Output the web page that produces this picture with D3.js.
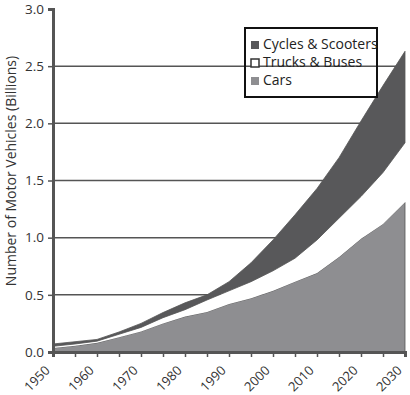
<!DOCTYPE html>
<html>
<head>
<meta charset="utf-8">
<script src="https://cdn.jsdelivr.net/npm/d3@7"></script>
<style>
  body { margin: 0; background: #fff; }
  .chart text { font-family: "Open Sans", sans-serif; }
</style>
</head>
<body>
<div class="chart"></div>
<script>
const years = [1950, 1955, 1960, 1965, 1970, 1975, 1980, 1985, 1990, 1995, 2000, 2005, 2010, 2015, 2020, 2025, 2030];
const cars = [0.035, 0.055, 0.08, 0.13, 0.18, 0.25, 0.31, 0.35, 0.42, 0.47, 0.535, 0.615, 0.69, 0.83, 0.99, 1.12, 1.31];
const trucks = [0.015, 0.015, 0.015, 0.025, 0.035, 0.05, 0.06, 0.105, 0.115, 0.145, 0.175, 0.205, 0.29, 0.34, 0.37, 0.45, 0.52];
const cycles = [0.02, 0.02, 0.015, 0.02, 0.035, 0.045, 0.06, 0.045, 0.08, 0.165, 0.27, 0.38, 0.45, 0.53, 0.66, 0.76, 0.80];
const seriesNames = ["Cars", "Trucks & Buses", "Cycles & Scooters"];
const legendNames = ["Cycles & Scooters", "Trucks & Buses", "Cars"];
const yTicks = [0, 0.5, 1.0, 1.5, 2.0, 2.5, 3.0];
const xLabelYears = [1950, 1960, 1970, 1980, 1990, 2000, 2010, 2020, 2030];

const margin = ({top: 9, right: 5, bottom: 43, left: 53});
const width = 410 - margin.left - margin.right,
      height = 395 - margin.top - margin.bottom;

const svg = d3.select(".chart").append("svg")
    .attr("width", 410)
    .attr("height", 395)
  .append("g")
    .attr("transform", "translate(" + margin.left + "," + margin.top + ")");

const data = years.map((y, i) => ({year: y, "Cars": cars[i], "Trucks & Buses": trucks[i], "Cycles & Scooters": cycles[i]}));
const stacked = d3.stack().keys(seriesNames)(data);

const xScale = d3.scaleLinear().domain([1950, 2030]).range([0, width]);
const yScale = d3.scaleLinear().domain([0, 3]).range([height, 0]);

const colors = {"Cars": "#8e8e91", "Trucks & Buses": "#ffffff", "Cycles & Scooters": "#58585a"};

// gridlines
svg.selectAll(".grid")
    .data(yTicks.filter(d => d > 0 && d < 3))
    .enter()
    .append("line")
    .attr("x1", 0)
    .attr("x2", width)
    .attr("y1", d => yScale(d))
    .attr("y2", d => yScale(d))
    .style("stroke", "#555")
    .style("stroke-width", 1.5);

const area = d3.area()
    .x(d => xScale(d.data.year))
    .y0(d => yScale(d[0]))
    .y1(d => yScale(d[1]));

svg.selectAll(".layer")
    .data(stacked)
    .enter()
    .append("path")
    .attr("d", area)
    .style("fill", d => colors[d.key])
    .style("stroke", d => d.key == "Trucks & Buses" ? "none" : "#555")
    .style("stroke-width", 0.8);

// Axis
const xAxis = d3.axisBottom(xScale)
    .tickValues(d3.range(1950, 2031, 5))
    .tickSize(5)
    .tickFormat(d => xLabelYears.includes(d) ? d : "");
const yAxis = d3.axisLeft(yScale)
    .tickValues(yTicks)
    .tickSize(5)
    .tickFormat(d3.format(".1f"));

const gx = svg.append("g")
    .attr("class", "axis x-axis")
    .attr("transform", `translate(0, ${height})`)
    .call(xAxis);
gx.select(".domain").style("stroke", "#555").style("stroke-width", 3);
gx.selectAll(".tick line").style("stroke", "#555").style("stroke-width", 1.5);
gx.selectAll("text")
    .attr("font-size", 13)
    .attr("fill", "#333")
    .style("text-anchor", "end")
    .attr("x", 0)
    .attr("y", 0)
    .attr("dy", "0.35em")
    .attr("transform", "translate(-6,16) rotate(-45)");

const gy = svg.append("g")
    .attr("class", "axis y-axis")
    .call(yAxis);
gy.select(".domain").style("stroke", "#555").style("stroke-width", 3);
gy.selectAll(".tick line").style("stroke", "#555").style("stroke-width", 1.5);
gy.selectAll("text")
    .attr("font-size", 13.5)
    .attr("fill", "#333")
    .attr("x", -9);

// y label
svg.append("text")
    .attr("transform", `translate(-37, 162) rotate(-90)`)
    .attr("text-anchor", "middle")
    .attr("font-size", 14)
    .attr("fill", "#333")
    .text("Number of Motor Vehicles (Billions)");

// Legend
const legend = svg.append("g").attr("transform", "translate(192, 19)");
legend.append("rect")
    .attr("width", 132)
    .attr("height", 69)
    .style("fill", "none")
    .style("stroke", "#111")
    .style("stroke-width", 2);
legend.selectAll(".swatch")
    .data(legendNames)
    .enter()
    .append("rect")
    .attr("x", 6)
    .attr("y", (_, i) => 13 + 18 * i)
    .attr("width", 8)
    .attr("height", 8)
    .style("fill", d => colors[d])
    .style("stroke", d => d == "Trucks & Buses" ? "#333" : "none")
    .style("stroke-width", 1.5);
legend.selectAll(".label")
    .data(legendNames)
    .enter()
    .append("text")
    .attr("x", 18)
    .attr("y", (_, i) => 21 + 18 * i)
    .attr("font-size", 14)
    .attr("fill", "#222")
    .text(d => d);
</script>
</body>
</html>
